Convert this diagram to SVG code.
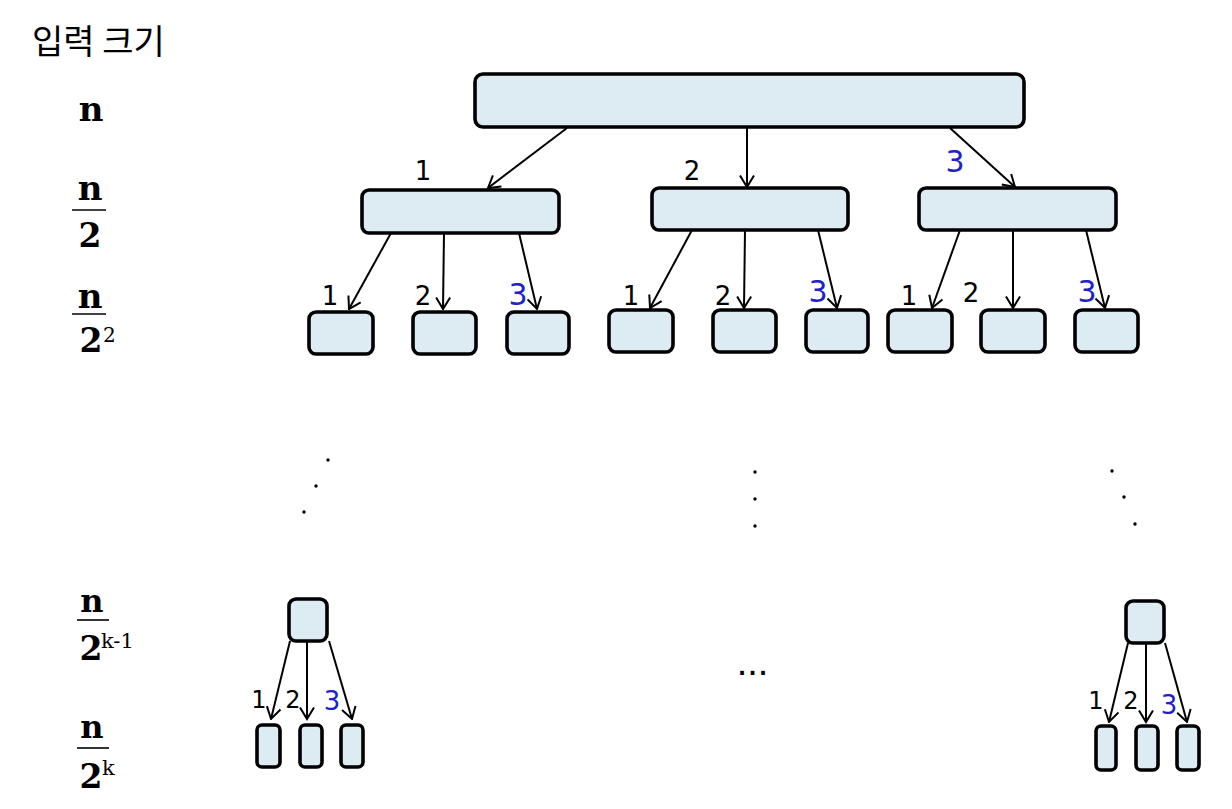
<svg xmlns="http://www.w3.org/2000/svg" width="1232" height="809" viewBox="0 0 1232 809">
<style>
.node{fill:#DDEBF3;stroke:#000;stroke-width:3.6}
.edge{stroke:#000;stroke-width:2;fill:none;marker-end:url(#arr)}
.lbl{font-family:"DejaVu Sans",Verdana,sans-serif;font-size:26px;fill:#000;text-anchor:middle}
.b3{font-family:"DejaVu Sans",Verdana,sans-serif;font-size:30px;fill:#2020CC;text-anchor:middle}
.sm{font-size:24px}
.sm3{font-size:26px}
.m{font-family:"DejaVu Serif","Liberation Serif",serif;font-weight:bold;fill:#000;text-anchor:middle}
.sup{font-family:"DejaVu Serif","Liberation Serif",serif;fill:#000}
.frac{stroke:#000;stroke-width:1.6}
.dot{fill:#000}
</style>
<defs>
<marker id="arr" viewBox="0 0 14 16" refX="12.5" refY="8" markerWidth="14" markerHeight="16" markerUnits="userSpaceOnUse" orient="auto">
<path d="M1,1 L12.5,8 L1,15" fill="none" stroke="#000" stroke-width="2"/>
</marker>
</defs>
<rect width="1232" height="809" fill="#fff"/>

<g id="size-labels">
<text x="32" y="54" style="font-family:'Noto Sans CJK KR','Noto Sans CJK SC',sans-serif;font-size:34px;fill:#000">입력 크기</text>
<text class="m" x="91" y="121" font-size="34">n</text>
<text class="m" x="90" y="200" font-size="34">n</text>
<line class="frac" x1="72" y1="210" x2="106" y2="210"/>
<text class="m" x="90" y="247" font-size="33">2</text>
<text class="m" x="90" y="308" font-size="34">n</text>
<line class="frac" x1="72" y1="314" x2="106" y2="314"/>
<text class="m" x="91" y="352" font-size="33">2</text>
<text class="sup" x="103" y="342" font-size="20">2</text>
<text class="m" x="92" y="612" font-size="32">n</text>
<line class="frac" x1="77" y1="620" x2="109" y2="620"/>
<text class="m" x="91" y="660" font-size="33">2</text>
<text class="sup" x="101" y="648" font-size="21">k-1</text>
<text class="m" x="92" y="738" font-size="32">n</text>
<line class="frac" x1="77" y1="748" x2="109" y2="748"/>
<text class="m" x="91" y="788" font-size="33">2</text>
<text class="sup" x="102" y="775" font-size="21">k</text>
</g>

<g id="connectors">
<line class="edge" x1="567" y1="128" x2="488" y2="188"/>
<line class="edge" x1="747" y1="128" x2="747" y2="187"/>
<line class="edge" x1="950" y1="128" x2="1015" y2="187"/>

<line class="edge" x1="391" y1="233" x2="349" y2="309"/>
<line class="edge" x1="444" y1="233" x2="443" y2="309"/>
<line class="edge" x1="519" y1="233" x2="537" y2="309"/>

<line class="edge" x1="692" y1="230" x2="650" y2="308"/>
<line class="edge" x1="745" y1="230" x2="744" y2="308"/>
<line class="edge" x1="818" y1="230" x2="837" y2="308"/>

<line class="edge" x1="960" y1="230" x2="932" y2="308"/>
<line class="edge" x1="1013" y1="230" x2="1013" y2="308"/>
<line class="edge" x1="1086" y1="230" x2="1105" y2="308"/>

<line class="edge" x1="290" y1="641" x2="271" y2="719"/>
<line class="edge" x1="307" y1="641" x2="307" y2="719"/>
<line class="edge" x1="329" y1="641" x2="352" y2="719"/>

<line class="edge" x1="1128" y1="643" x2="1109" y2="722"/>
<line class="edge" x1="1146" y1="643" x2="1146" y2="722"/>
<line class="edge" x1="1165" y1="643" x2="1187" y2="722"/>
</g>

<g id="edge-labels">
<text class="lbl" x="423" y="180">1</text>
<text class="lbl" x="692" y="180">2</text>
<text class="b3" x="955" y="172">3</text>

<text class="lbl" x="330" y="305">1</text>
<text class="lbl" x="423" y="305">2</text>
<text class="b3" x="518" y="305">3</text>
<text class="lbl" x="631" y="305">1</text>
<text class="lbl" x="723" y="305">2</text>
<text class="b3" x="818" y="302">3</text>
<text class="lbl" x="909" y="305">1</text>
<text class="lbl" x="971" y="302">2</text>
<text class="b3" x="1087" y="302">3</text>

<text class="lbl sm" x="259" y="708">1</text>
<text class="lbl sm" x="293" y="708">2</text>
<text class="b3 sm3" x="332" y="710">3</text>
<text class="lbl sm" x="1096" y="709">1</text>
<text class="lbl sm" x="1131" y="709">2</text>
<text class="b3 sm3" x="1169" y="714">3</text>
</g>

<g id="root"><rect class="node" x="475" y="74" width="549" height="53" rx="8"/></g>
<g id="n1"><rect class="node" x="362" y="190" width="197" height="43" rx="7"/></g>
<g id="n2"><rect class="node" x="652" y="188" width="196" height="42" rx="7"/></g>
<g id="n3"><rect class="node" x="919" y="188" width="197" height="42" rx="7"/></g>

<g id="n11"><rect class="node" x="309" y="312" width="64" height="42" rx="7"/></g>
<g id="n12"><rect class="node" x="413" y="312" width="63" height="42" rx="7"/></g>
<g id="n13"><rect class="node" x="507" y="312" width="62" height="42" rx="7"/></g>
<g id="n21"><rect class="node" x="609" y="310" width="64" height="42" rx="7"/></g>
<g id="n22"><rect class="node" x="713" y="310" width="63" height="42" rx="7"/></g>
<g id="n23"><rect class="node" x="806" y="310" width="62" height="42" rx="7"/></g>
<g id="n31"><rect class="node" x="888" y="310" width="64" height="42" rx="7"/></g>
<g id="n32"><rect class="node" x="981" y="310" width="64" height="42" rx="7"/></g>
<g id="n33"><rect class="node" x="1075" y="310" width="63" height="42" rx="7"/></g>

<g id="dots">
<circle class="dot" cx="328" cy="460" r="1.7"/>
<circle class="dot" cx="316" cy="486" r="1.7"/>
<circle class="dot" cx="304" cy="512" r="1.7"/>
<circle class="dot" cx="755" cy="472" r="1.7"/>
<circle class="dot" cx="755" cy="499" r="1.7"/>
<circle class="dot" cx="755" cy="526" r="1.7"/>
<circle class="dot" cx="1112" cy="471" r="1.7"/>
<circle class="dot" cx="1124" cy="497" r="1.7"/>
<circle class="dot" cx="1135" cy="524" r="1.7"/>
<text x="752.5" y="675" style="font-family:'Liberation Sans',Arial,sans-serif;font-size:38px;fill:#000;text-anchor:middle">...</text>
</g>

<g id="kL"><rect class="node" x="289" y="599" width="38" height="42" rx="7"/></g>
<g id="kL1"><rect class="node" x="257" y="725" width="23" height="42" rx="5"/></g>
<g id="kL2"><rect class="node" x="300" y="725" width="22" height="42" rx="5"/></g>
<g id="kL3"><rect class="node" x="341" y="725" width="22" height="42" rx="5"/></g>

<g id="kR"><rect class="node" x="1126" y="601" width="38" height="42" rx="7"/></g>
<g id="kR1"><rect class="node" x="1096" y="726" width="20" height="44" rx="5"/></g>
<g id="kR2"><rect class="node" x="1136" y="726" width="22" height="44" rx="5"/></g>
<g id="kR3"><rect class="node" x="1177" y="726" width="22" height="44" rx="5"/></g>
</svg>
